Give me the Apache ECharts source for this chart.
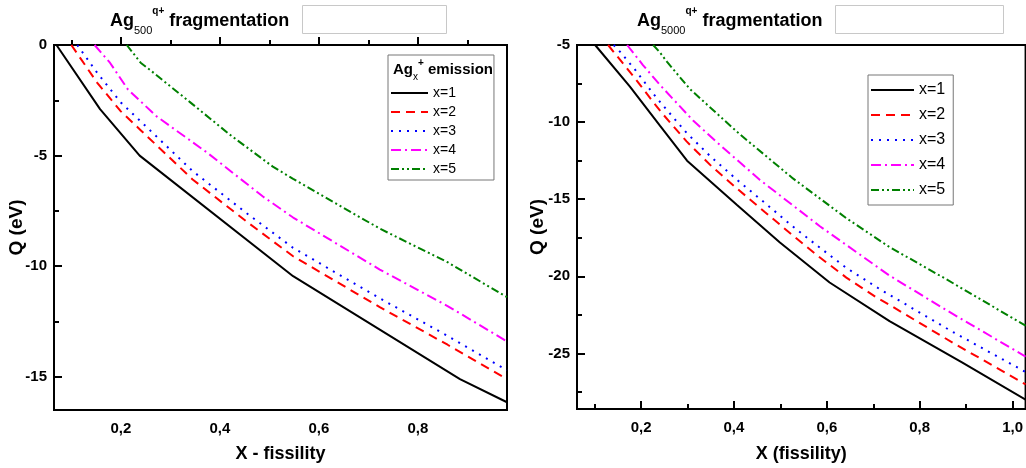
<!DOCTYPE html>
<html>
<head>
<meta charset="utf-8">
<style>
html, body { margin: 0; padding: 0; background: #fff; }
#chart { width: 1026px; height: 468px; }
</style>
<script src="https://cdn.jsdelivr.net/npm/echarts@6/dist/echarts.min.js"></script>
</head>
<body>
<div id="chart"></div>
<script>
// series names
const names = ['x=1', 'x=2', 'x=3', 'x=4', 'x=5'];

// Ag500 panel, [fissility, Q]
const left1 = [[0.07, 0], [0.158, -2.9], [0.238, -5.0], [0.548, -10.45], [0.885, -15.1], [0.98, -16.15]];
const left2 = [[0.1, 0], [0.152, -1.7], [0.2, -3.0], [0.24, -3.85], [0.345, -6.08], [0.455, -8.0], [0.548, -9.55], [0.723, -11.85], [0.86, -13.55], [0.98, -15.1]];
const left3 = [[0.112, 0], [0.152, -1.25], [0.2, -2.6], [0.24, -3.45], [0.345, -5.7], [0.455, -7.62], [0.548, -9.17], [0.723, -11.45], [0.86, -13.15], [0.98, -14.7]];
const left4 = [[0.147, 0], [0.178, -0.8], [0.214, -2.0], [0.24, -2.55], [0.273, -3.24], [0.374, -4.86], [0.487, -6.85], [0.548, -7.8], [0.723, -10.15], [0.86, -11.8], [0.98, -13.4]];
const left5 = [[0.212, 0], [0.24, -0.8], [0.259, -1.13], [0.339, -2.57], [0.42, -4.05], [0.507, -5.5], [0.548, -6.05], [0.596, -6.67], [0.723, -8.3], [0.86, -9.82], [0.98, -11.4]];

// Ag5000 panel
const right1 = [[0.101, -5], [0.176, -7.7], [0.241, -10.25], [0.299, -12.5], [0.406, -15.35], [0.499, -17.8], [0.606, -20.4], [0.735, -22.9], [0.892, -25.6], [1.028, -28.0]];
const right2 = [[0.129, -5], [0.155, -5.97], [0.187, -7.16], [0.226, -8.7], [0.248, -9.52], [0.298, -11.25], [0.352, -12.87], [0.409, -14.37], [0.467, -15.84], [0.524, -17.28], [0.581, -18.68], [0.642, -20.08], [0.707, -21.37], [0.735, -21.85], [0.871, -24.3], [1.028, -27.0]];
const right3 = [[0.141, -5], [0.155, -5.45], [0.187, -6.6], [0.226, -8.15], [0.248, -8.95], [0.298, -10.7], [0.352, -12.3], [0.409, -13.8], [0.467, -15.25], [0.524, -16.7], [0.581, -18.05], [0.642, -19.45], [0.707, -20.7], [0.735, -21.2], [0.871, -23.6], [1.028, -26.2]];
const right4 = [[0.17, -5], [0.204, -6.3], [0.241, -7.6], [0.312, -9.9], [0.363, -11.3], [0.456, -13.75], [0.585, -16.75], [0.735, -19.95], [0.858, -22.2], [1.028, -25.2]];
const right5 = [[0.226, -5], [0.241, -5.5], [0.256, -6.1], [0.305, -7.85], [0.413, -10.8], [0.527, -13.65], [0.643, -16.25], [0.735, -18.1], [0.858, -20.2], [1.028, -23.2]];

// ticks
const xTicksLeft = [0.2, 0.4, 0.6, 0.8];
const xMinorLeft = [0.1, 0.3, 0.5, 0.7, 0.9];
const yTicksLeft = [-15, -10, -5, 0];
const yMinorLeft = [-12.5, -7.5, -2.5];
const xTicksRight = [0.2, 0.4, 0.6, 0.8, 1.0];
const xMinorRight = [0.1, 0.3, 0.5, 0.7, 0.9];
const yTicksRight = [-25, -20, -15, -10, -5];
const yMinorRight = [-27.5, -22.5, -17.5, -12.5, -7.5];

const colors = ['#000000', '#ff0000', '#0000ff', '#ff00ff', '#008000'];
const dashes = ['solid', [9, 6], [2, 6], [10, 4, 2, 4], [8, 3, 2, 3, 2, 3]];

const FONT = 'Liberation Sans, Arial, sans-serif';

let chart = echarts.init(document.getElementById('chart'), null, { renderer: 'canvas' });

function mainX(grid, min, max, ticks, name, gap) {
    return {
        type: 'value', gridIndex: grid, min: min, max: max, position: 'bottom',
        name: name, nameLocation: 'middle', nameGap: gap,
        nameTextStyle: { fontFamily: FONT, fontWeight: 'bold', fontSize: 18, color: '#000' },
        axisLine: { lineStyle: { color: '#000', width: 2 } },
        axisTick: { inside: true, length: 8, customValues: ticks, lineStyle: { color: '#000', width: 2 } },
        axisLabel: {
            customValues: ticks, margin: 11, color: '#000', fontFamily: FONT, fontWeight: 'bold', fontSize: 15,
            formatter: v => v.toFixed(1).replace('.', ',')
        },
        splitLine: { show: false }
    };
}
function minorAxis(grid, min, max, ticks, pos) {
    return {
        type: 'value', gridIndex: grid, min: min, max: max, position: pos,
        axisLine: { show: false },
        axisTick: { inside: true, length: 5, customValues: ticks, lineStyle: { color: '#000', width: 2 } },
        axisLabel: { show: false },
        splitLine: { show: false }
    };
}
function mainY(grid, min, max, ticks, gap) {
    return {
        type: 'value', gridIndex: grid, min: min, max: max, position: 'left',
        name: 'Q (eV)', nameLocation: 'middle', nameGap: gap, nameRotate: 90, nameMoveOverlap: false,
        nameTextStyle: { fontFamily: FONT, fontWeight: 'bold', fontSize: 19, color: '#000' },
        axisLine: { lineStyle: { color: '#000', width: 2 } },
        axisTick: { inside: true, length: 8, customValues: ticks, lineStyle: { color: '#000', width: 2 } },
        axisLabel: {
            customValues: ticks, margin: 7, color: '#000', fontFamily: FONT, fontWeight: 'bold', fontSize: 15
        },
        splitLine: { show: false }
    };
}

const leftData = [left1, left2, left3, left4, left5];
const rightData = [right1, right2, right3, right4, right5];
const series = [];
leftData.forEach((d, i) => {
    series.push({
        name: names[i], type: 'line', xAxisIndex: 0, yAxisIndex: 0, data: d,
        symbol: 'none', clip: true, color: colors[i],
        lineStyle: { color: colors[i], width: 2, type: dashes[i] }
    });
});
rightData.forEach((d, i) => {
    series.push({
        name: names[i], type: 'line', xAxisIndex: 2, yAxisIndex: 2, data: d,
        symbol: 'none', clip: true, color: colors[i],
        lineStyle: { color: colors[i], width: 2, type: dashes[i] }
    });
});

function titleText(left, sub) {
    return {
        type: 'text', left: left, top: 6,
        style: {
            text: '{a|Ag}{b|' + sub + '}{c|q+}{a| fragmentation}',
            rich: {
                a: { fontFamily: FONT, fontWeight: 'bold', fontSize: 18, lineHeight: 30, fill: '#000' },
                b: { fontFamily: FONT, fontSize: 11, lineHeight: 12, verticalAlign: 'bottom', fill: '#000' },
                c: { fontFamily: FONT, fontWeight: 'bold', fontSize: 10, lineHeight: 11, verticalAlign: 'top', fill: '#000' }
            }
        }
    };
}

chart.setOption({
    backgroundColor: '#fff',
    animation: false,
    grid: [
        { left: 54, top: 45, width: 453, height: 366, show: true, borderColor: '#000', borderWidth: 2 },
        { left: 577, top: 45, width: 452, height: 366, show: true, borderColor: '#000', borderWidth: 2 }
    ],
    xAxis: [
        mainX(0, 0.065, 0.98, xTicksLeft, 'X - fissility', 35),
        minorAxis(0, 0.065, 0.98, xMinorLeft, 'bottom'),
        mainX(1, 0.062, 1.028, xTicksRight, 'X (fissility)', 36),
        minorAxis(1, 0.062, 1.028, xMinorRight, 'bottom')
    ],
    yAxis: [
        mainY(0, -16.5, 0, yTicksLeft, 28),
        minorAxis(0, -16.5, 0, yMinorLeft, 'left'),
        mainY(1, -28.6, -5, yTicksRight, 30),
        minorAxis(1, -28.6, -5, yMinorRight, 'left')
    ],
    legend: [
        {
            data: names, orient: 'vertical', left: 388, top: 55,
            itemWidth: 37, itemHeight: 14, itemGap: 5,
            padding: [31, 38, 4, 2],
            borderColor: '#777', borderWidth: 1, backgroundColor: '#fff',
            itemStyle: { opacity: 0 },
            textStyle: { fontFamily: FONT, fontSize: 14, color: '#000' }
        },
        {
            data: names, orient: 'vertical', left: 868, top: 75,
            itemWidth: 43, itemHeight: 14, itemGap: 9,
            padding: [7, 8, 7, 2],
            borderColor: '#777', borderWidth: 1, backgroundColor: '#fff',
            itemStyle: { opacity: 0 },
            textStyle: { fontFamily: FONT, fontSize: 16, color: '#000' }
        }
    ],
    graphic: [
        titleText(110, '500'),
        { type: 'rect', shape: { x: 302.5, y: 5.5, width: 144, height: 28 }, style: { fill: '#fff', stroke: '#c8c8c8', lineWidth: 1 } },
        titleText(637, '5000'),
        { type: 'rect', shape: { x: 835.5, y: 5.5, width: 168, height: 28 }, style: { fill: '#fff', stroke: '#c8c8c8', lineWidth: 1 } },
        {
            type: 'text', left: 393, top: 58, z: 100,
            style: {
                text: '{a|Ag}{b|x}{c|+}{a| emission}',
                rich: {
                    a: { fontFamily: FONT, fontWeight: 'bold', fontSize: 15, lineHeight: 24, fill: '#000' },
                    b: { fontFamily: FONT, fontSize: 10, lineHeight: 10, verticalAlign: 'bottom', fill: '#000' },
                    c: { fontFamily: FONT, fontWeight: 'bold', fontSize: 10, lineHeight: 10, verticalAlign: 'top', fill: '#000' }
                }
            }
        }
    ],
    series: series
});
</script>
</body>
</html>
